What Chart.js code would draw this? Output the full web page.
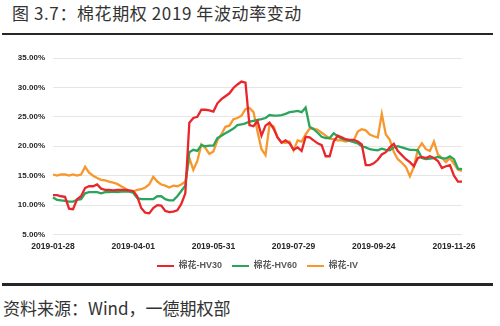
<!DOCTYPE html>
<html>
<head>
<meta charset="utf-8">
<script src="https://cdn.jsdelivr.net/npm/chart.js@4.4.1/dist/chart.umd.min.js"></script>
<style>
  html, body { margin: 0; padding: 0; background: #ffffff; }
  body { width: 500px; height: 326px; position: relative; overflow: hidden; }
  #title { position: absolute; left: 12px; top: 1px; font-family: "Noto Sans CJK SC", sans-serif; font-size: 17px; line-height: 24px; color: #333333; white-space: nowrap; letter-spacing: 0.6px; }
  #rule1 { position: absolute; left: 2px; top: 33px; width: 491px; height: 2px; background: #262626; }
  #rule2 { position: absolute; left: 2px; top: 283px; width: 491px; height: 3px; background: #262626; }
  #source { position: absolute; left: 3px; top: 296px; font-family: "Noto Sans CJK SC", sans-serif; font-size: 17px; line-height: 24px; color: #333333; white-space: nowrap; }
  #wrap { position: absolute; left: 0; top: 38px; width: 500px; height: 244px; }
</style>
</head>
<body>
<div id="title">图 3.7：棉花期权 2019 年波动率变动</div>
<div id="rule1"></div>
<div id="wrap"><canvas id="c" width="500" height="244"></canvas></div>
<div id="rule2"></div>
<div id="source">资料来源：Wind，一德期权部</div>
<script>
// Tick labels shown every 20 points (approx. every 40 trading days)
const tickLabels = ['2019-01-28', '2019-04-01', '2019-05-31', '2019-07-29', '2019-09-24', '2019-11-26'];
const tickEvery = 20;

const seriesNames = ['棉花-HV30', '棉花-HV60', '棉花-IV'];
const seriesColors = ['#E8262B', '#2AA55B', '#F7982E'];

// Values in percent, sampled roughly every two trading days
const hv30 = [
  11.7, 11.7, 11.5, 11.4, 9.4, 9.3, 11.0, 11.5, 12.9, 13.2,
  13.2, 13.5, 12.8, 12.6, 12.6, 12.5, 12.6, 12.6, 12.6, 12.5,
  12.4, 11.5, 9.5, 8.7, 8.6, 9.5, 10.0, 9.9, 9.0, 8.8,
  8.9, 9.1, 10.2, 12.0, 24.0, 24.8, 25.0, 26.2, 26.2, 26.1,
  25.9, 27.3, 28.0, 28.5, 29.0, 29.9, 30.5, 31.0, 30.8, 23.6,
  23.4, 24.3, 21.8, 23.5, 24.0, 23.0, 21.5, 20.6, 21.0, 20.5,
  19.4, 19.8, 19.2, 21.6, 21.5, 21.0, 20.5, 20.2, 18.3, 18.3,
  20.8, 21.8, 21.5, 21.2, 21.1, 21.1, 20.8, 20.3, 16.8, 16.8,
  17.1, 17.7, 18.6, 19.0, 19.8, 20.4, 19.2, 18.5, 17.8, 17.3,
  16.6, 18.0, 18.2, 18.0, 18.3, 18.0, 17.5, 16.3, 16.6, 16.8,
  15.0, 14.0, 14.0
];
const hv60 = [
  11.3, 10.9, 10.8, 10.7, 10.6, 10.6, 10.9, 11.0, 12.0, 12.2,
  12.2, 12.2, 12.0, 12.2, 12.2, 12.3, 12.2, 12.3, 12.3, 12.3,
  12.1, 11.2, 11.0, 11.0, 11.0, 11.0, 11.5, 11.5, 11.0, 10.8,
  10.8, 11.5, 12.4, 13.3, 19.0, 19.4, 19.2, 20.2, 20.0, 20.1,
  20.1, 21.4, 21.8, 22.2, 22.6, 23.0, 23.6, 23.7, 23.9, 24.2,
  24.3, 24.5, 24.6, 24.8, 25.3, 25.2, 25.2, 25.3, 25.5, 25.8,
  25.9, 26.0, 25.8, 26.6, 23.3, 22.9, 22.3, 21.6, 21.4, 21.4,
  22.2, 21.7, 21.3, 21.1, 20.9, 20.7, 20.5, 20.0, 19.8, 19.5,
  19.4, 19.3, 19.6, 19.4, 19.3, 19.8, 20.0, 19.8, 19.6, 19.4,
  19.4, 19.3, 18.0, 17.8, 17.9, 18.0, 18.2, 18.0, 17.9, 18.3,
  17.8, 16.2, 16.1
];
const iv = [
  15.2, 15.0, 15.2, 15.2, 15.0, 15.2, 15.0, 15.2, 16.5, 15.5,
  15.0, 14.6, 14.3, 14.2, 14.0, 13.8, 13.6, 13.2, 12.8, 12.4,
  12.3, 12.6, 12.7, 13.0, 13.5, 14.8, 14.0, 13.5, 13.3, 13.0,
  13.3, 13.2, 13.5, 14.0, 18.0, 16.0, 17.5, 20.3, 19.7, 18.7,
  19.1, 21.0, 22.0, 23.3, 23.5, 24.6, 24.8, 25.2, 26.3, 26.5,
  25.8, 22.5, 19.5, 18.5, 23.7, 23.4, 21.5, 20.7, 20.6, 20.8,
  19.3, 21.0, 20.8, 22.0, 23.0, 23.0, 22.8, 22.3, 21.8, 21.3,
  21.2, 21.0, 21.0, 20.8, 21.0, 21.0, 22.5, 22.9, 22.7, 22.0,
  21.7, 21.5, 25.5, 22.0, 21.1, 19.0, 17.8, 17.2, 16.5, 14.9,
  16.5, 19.5, 20.5, 19.5, 19.2, 20.8, 18.6, 18.0, 17.3, 18.0,
  17.0, 16.0, 15.8
];

const yMin = 5, yMax = 35, yStep = 5;

const labels = hv30.map((_, i) => i);
const seriesValues = [hv30, hv60, iv];

Chart.defaults.font.family = "'Liberation Sans', 'Noto Sans CJK SC', sans-serif";

new Chart(document.getElementById('c'), {
  type: 'line',
  data: {
    labels: labels,
    datasets: seriesValues.map((vals, k) => ({
      label: seriesNames[k],
      data: vals,
      borderColor: seriesColors[k],
      backgroundColor: seriesColors[k],
      borderWidth: 2.3,
      pointRadius: 0,
      tension: 0,
      fill: false
    }))
  },
  options: {
    responsive: false,
    animation: false,
    layout: { padding: { top: 20, right: 38, left: 0, bottom: 1.5 } },
    plugins: {
      tooltip: { enabled: false },
      legend: {
        position: 'bottom',
        fullSize: false,
        labels: {
          boxWidth: 17,
          boxHeight: 2,
          padding: 10,
          color: '#595959',
          font: { size: 9, weight: 'bold' },
          generateLabels: (chart) => Chart.defaults.plugins.legend.labels.generateLabels(chart).map(l => Object.assign(l, { lineWidth: 0 }))
        }
      }
    },
    scales: {
      x: {
        type: 'category',
        grid: { display: false, drawTicks: false },
        border: { display: false },
        ticks: {
          autoSkip: false,
          maxRotation: 0,
          padding: 7,
          color: '#262626',
          font: { size: 8.5, weight: 'bold' },
          callback: (v, i) => (i % tickEvery === 0 ? tickLabels[i / tickEvery] : null)
        },
        afterFit: (s) => { s.height = 17; }
      },
      y: {
        min: yMin,
        max: yMax,
        grid: { color: '#E6E6E6', lineWidth: 1, drawTicks: false },
        border: { display: false },
        ticks: {
          stepSize: yStep,
          padding: 8,
          color: '#262626',
          font: { size: 8, weight: 'bold' },
          callback: (v) => Number(v).toFixed(2) + '%'
        },
        afterFit: (s) => { s.width = 53; }
      }
    }
  }
});
</script>
</body>
</html>
